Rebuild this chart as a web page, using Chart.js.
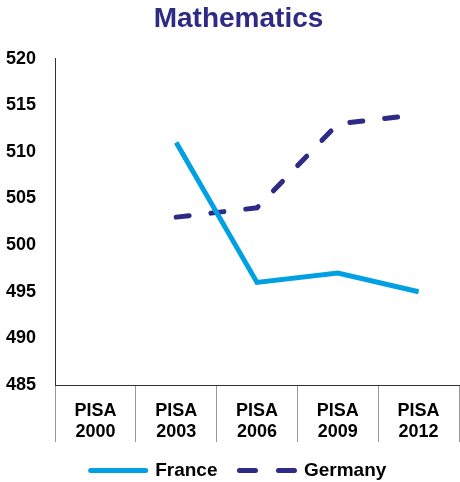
<!DOCTYPE html>
<html>
<head>
<meta charset="utf-8">
<script src="https://cdn.jsdelivr.net/npm/chart.js@4"></script>
<style>
  html, body { margin: 0; padding: 0; background: #fff; }
  #wrap { width: 460px; height: 482px; }
</style>
</head>
<body>
<div id="wrap"><canvas id="mathChart" width="460" height="482"></canvas></div>
<script>
// PISA mathematics scores
const waves = [['PISA', '2000'], ['PISA', '2003'], ['PISA', '2006'], ['PISA', '2009'], ['PISA', '2012']];
const france = [null, 511, 496, 497, 495];
const germany = [null, 503, 504, 513, 514];
const yTicks = [485, 490, 495, 500, 505, 510, 515, 520];

const FONT = 'Arial, "Liberation Sans", sans-serif';

const ctx = document.getElementById('mathChart').getContext('2d');
const mathChart = new Chart(ctx, {
    type: 'line',
    data: {
        labels: waves,
        datasets: [{
            label: 'France',
            data: france,
            borderColor: '#00A0E2',
            backgroundColor: '#00A0E2',
            borderWidth: 5,
            pointRadius: 0,
            tension: 0,
            fill: false
        }, {
            label: 'Germany',
            data: germany,
            borderColor: '#2E2A85',
            backgroundColor: '#2E2A85',
            borderWidth: 5,
            borderDash: [13, 22],
            borderCapStyle: 'round',
            pointRadius: 0,
            tension: 0,
            fill: false
        }]
    },
    options: {
        responsive: false,
        animation: false,
        // extra left padding shifts title/legend centre; y axis width is set in afterFit
        layout: { padding: { left: 18, right: 1, top: 2, bottom: 0 } },
        plugins: {
            title: {
                display: true,
                text: 'Mathematics',
                color: '#2E2A85',
                font: { family: FONT, size: 28, weight: 'bold' },
                padding: { top: 0, bottom: 23 }
            },
            legend: {
                position: 'bottom',
                maxHeight: 43,
                labels: {
                    color: '#000',
                    font: { family: FONT, size: 19, weight: 'bold' },
                    usePointStyle: true,
                    pointStyle: 'line',
                    pointStyleWidth: 55,
                    padding: 22,
                    generateLabels: chart => {
                        const items = Chart.defaults.plugins.legend.labels.generateLabels(chart);
                        items.forEach(it => {
                            it.pointStyle = 'line';
                            it.lineWidth = 5;
                            it.lineCap = 'round';
                            it.lineDash = it.datasetIndex === 1 ? [16, 23] : [];
                        });
                        return items;
                    }
                }
            },
            tooltip: { enabled: false }
        },
        scales: {
            x: {
                type: 'category',
                offset: true,
                grid: {
                    offset: true,
                    drawOnChartArea: false,
                    drawTicks: true,
                    tickLength: 57,
                    color: '#999'
                },
                border: { color: '#333', width: 1 },
                ticks: {
                    color: '#000',
                    font: { family: FONT, size: 18, weight: 'bold', lineHeight: 1.15 },
                    padding: -41,
                    maxRotation: 0,
                    autoSkip: false
                },
                afterFit: axis => { axis.height = 54; }
            },
            y: {
                min: 485,
                max: 520,
                afterBuildTicks: axis => { axis.ticks = yTicks.map(v => ({ value: v })); },
                grid: { display: false, drawTicks: false },
                border: { color: '#333', width: 1 },
                ticks: {
                    color: '#000',
                    font: { family: FONT, size: 18, weight: 'bold' },
                    mirror: true,
                    padding: -49
                },
                afterFit: axis => { axis.width = 37; }
            }
        }
    }
});
</script>
</body>
</html>
